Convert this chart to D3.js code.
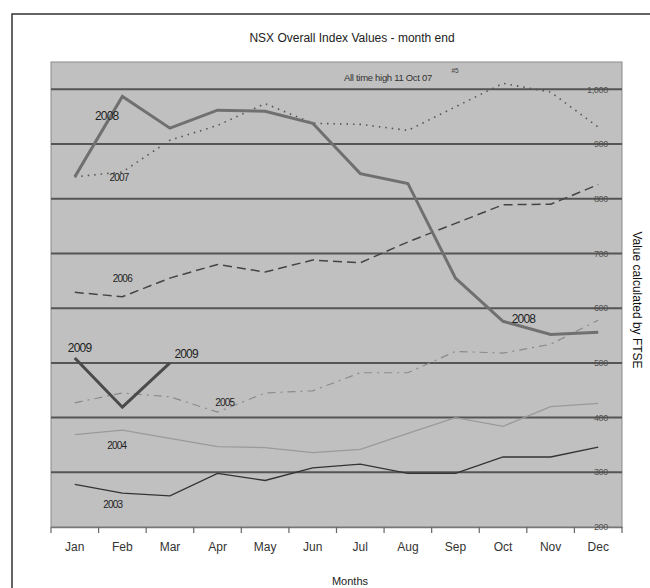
<!DOCTYPE html>
<html>
<head>
<meta charset="utf-8">
<script src="https://cdn.jsdelivr.net/npm/d3@7"></script>
<style>
  body { margin: 0; background: #fff; }
  text { font-family: "Liberation Sans", Arial, sans-serif; }
</style>
</head>
<body>
<script>
const months = ['Jan', 'Feb', 'Mar', 'Apr', 'May', 'Jun', 'Jul', 'Aug', 'Sep', 'Oct', 'Nov', 'Dec']
const yTicks = [200, 300, 400, 500, 600, 700, 800, 900, 1000]

const v2003 = [278, 262, 257, 298, 285, 308, 315, 298, 298, 328, 328, 346]
const v2004 = [369, 377, 362, 347, 345, 336, 342, 371, 400, 384, 420, 426]
const v2005 = [427, 445, 438, 410, 445, 449, 482, 482, 521, 518, 534, 578]
const v2006 = [629, 621, 655, 680, 666, 688, 683, 721, 755, 789, 790, 826]
const v2007 = [840, 849, 907, 934, 974, 938, 936, 925, 968, 1011, 995, 931]
const v2008 = [840, 987, 929, 962, 960, 938, 846, 828, 655, 576, 552, 556]
const v2009 = [509, 419, 500]

// year labels: [text, month position, value, font size]
const yearLabels = [
  ['2008', 0.67, 952, 12],
  ['2007', 0.93, 839, 10],
  ['2006', 1.0, 655, 10],
  ['2009', 0.1, 527, 12],
  ['2009', 2.34, 516, 12],
  ['2005', 3.15, 428, 10],
  ['2004', 0.88, 349, 10],
  ['2003', 0.8, 242, 10],
  ['2008', 9.43, 581, 12]
]

const W = 650, H = 588
const plotL = 51, plotR = 622, plotT = 62, plotB = 527

const svg = d3.select('body').append('svg')
  .attr('width', W)
  .attr('height', H)

// outer frame
svg.append('rect')
  .attr('x', 12).attr('y', 14)
  .attr('width', 700).attr('height', 700)
  .attr('fill', '#fff')
  .attr('stroke', '#333')
  .attr('stroke-width', 1.5)

const x = d3.scaleBand().domain(months).range([plotL, plotR])
const y = d3.scaleLinear().domain([200, 1050]).range([plotB, plotT])
const cx = i => x(months[0]) + x.bandwidth() * (i + 0.5)

svg.append('rect')
  .attr('x', plotL).attr('y', plotT)
  .attr('width', plotR - plotL).attr('height', plotB - plotT)
  .attr('fill', '#c0c0c0')
  .attr('stroke', '#8a8a8a')
  .attr('stroke-width', 1)

// gridlines
svg.append('g').selectAll('line')
  .data(yTicks.filter(d => d > 200))
  .join('line')
  .attr('x1', plotL).attr('x2', plotR)
  .attr('y1', d => y(d)).attr('y2', d => y(d))
  .attr('stroke', '#555')
  .attr('stroke-width', 2)

// x axis
const xAxis = svg.append('g')
  .attr('transform', `translate(0,${plotB})`)
  .call(d3.axisBottom(x).tickSize(0).tickPadding(15))
xAxis.select('.domain').attr('stroke', '#777').attr('stroke-width', 1.5)
xAxis.selectAll('text').attr('font-size', 12).attr('fill', '#333')
  .attr('font-family', '"Liberation Sans", Arial, sans-serif')
svg.append('g').selectAll('line')
  .data(d3.range(months.length + 1))
  .join('line')
  .attr('x1', i => plotL + i * x.bandwidth()).attr('x2', i => plotL + i * x.bandwidth())
  .attr('y1', plotB).attr('y2', plotB + 6)
  .attr('stroke', '#666')
  .attr('stroke-width', 1.2)

// y tick labels, drawn inside on the right
svg.append('g').selectAll('text')
  .data(yTicks)
  .join('text')
  .attr('x', 608)
  .attr('y', d => y(d))
  .attr('dy', '0.35em')
  .attr('text-anchor', 'end')
  .attr('font-size', 9)
  .attr('letter-spacing', -0.3)
  .attr('fill', '#505050')
  .text(d => d3.format(',')(d))

const line = d3.line()
  .x((d, i) => cx(i))
  .y(d => y(d))

const series = [
  { values: v2003, color: '#333', width: 1.3, dash: null },
  { values: v2004, color: '#9a9a9a', width: 1.3, dash: null },
  { values: v2005, color: '#8a8a8a', width: 1.2, dash: '8,5,2,5' },
  { values: v2006, color: '#444', width: 1.5, dash: '9,5' },
  { values: v2007, color: '#555', width: 1.6, dash: '1.5,5' },
  { values: v2008, color: '#707070', width: 3, dash: null },
  { values: v2009, color: '#4a4a4a', width: 3, dash: null }
]

svg.append('g').selectAll('path')
  .data(series)
  .join('path')
  .attr('d', d => line(d.values))
  .attr('fill', 'none')
  .attr('stroke', d => d.color)
  .attr('stroke-width', d => d.width)
  .attr('stroke-dasharray', d => d.dash)

svg.append('g').selectAll('text')
  .data(yearLabels)
  .join('text')
  .attr('x', d => cx(d[1]))
  .attr('y', d => y(d[2]))
  .attr('dy', '0.35em')
  .attr('text-anchor', 'middle')
  .attr('font-size', d => d[3])
  .attr('letter-spacing', -0.8)
  .attr('fill', '#222')
  .text(d => d[0])

// annotation
svg.append('text')
  .attr('x', 388).attr('y', 78)
  .attr('dy', '0.35em')
  .attr('text-anchor', 'middle')
  .attr('font-size', 9.5)
  .attr('letter-spacing', -0.3)
  .attr('fill', '#333')
  .text('All time high 11 Oct 07')
svg.append('text')
  .attr('x', 455).attr('y', 71)
  .attr('dy', '0.35em')
  .attr('text-anchor', 'middle')
  .attr('font-size', 6.5)
  .attr('fill', '#444')
  .text('#5')

svg.append('text')
  .attr('x', 352).attr('y', 42)
  .attr('text-anchor', 'middle')
  .attr('font-size', 12)
  .attr('fill', '#222')
  .text('NSX Overall Index Values - month end')

svg.append('text')
  .attr('transform', 'translate(633,300) rotate(90)')
  .attr('text-anchor', 'middle')
  .attr('font-size', 12)
  .attr('fill', '#111')
  .text('Value calculated by FTSE')

svg.append('text')
  .attr('x', 350).attr('y', 585)
  .attr('text-anchor', 'middle')
  .attr('font-size', 11)
  .attr('fill', '#222')
  .text('Months')
</script>
</body>
</html>
